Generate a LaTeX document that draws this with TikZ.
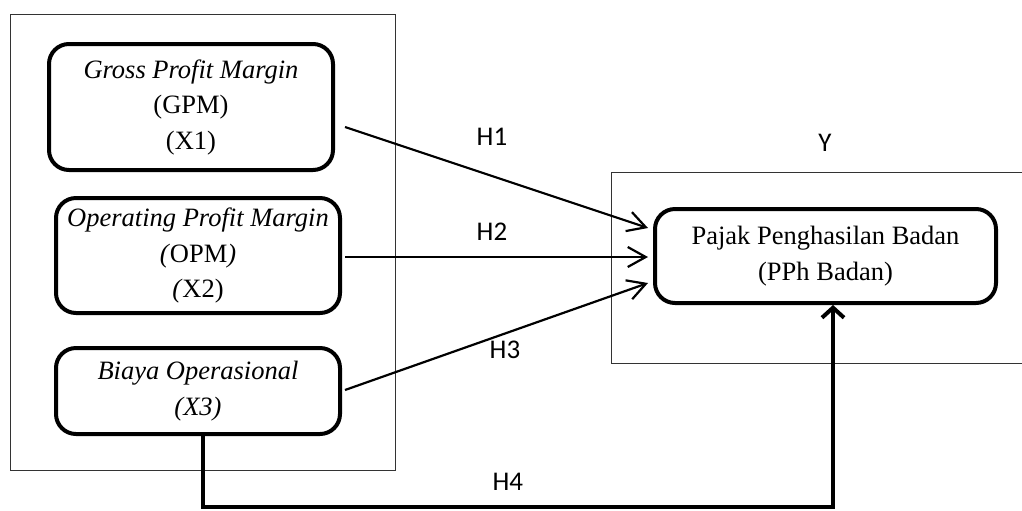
\documentclass[tikz,border=0pt]{standalone}
\usepackage{fontspec}
\setmainfont{Liberation Serif}
\newfontfamily\hfont{Carlito}
\usetikzlibrary{positioning,arrows.meta}
\tikzset{varbox/.style={draw, line width=2pt, rounded corners=10pt, align=center, inner sep=2pt, font=\fontsize{13.25pt}{17.75pt}\selectfont}}
\tikzset{frame/.style={draw=black!80, line width=0.5pt, inner sep=0pt}}
\tikzset{arr/.style={draw, line width=1.1pt, -{Straight Barb[length=9pt,width=10pt]}}}
\tikzset{arrthick/.style={draw, line width=2pt, -{Straight Barb[length=5pt,width=11pt]}}}
\tikzset{hlbl/.style={font=\hfont\fontsize{13.5pt}{16pt}\selectfont, inner sep=1pt}}

\begin{document}
\begin{tikzpicture}[x=0.5pt,y=-0.5pt]
\useasboundingbox (0,0) rectangle (1022,510);
% frames
\node[frame, minimum width=192.5pt, minimum height=228pt] (xframe) at (202.5,242) {};
\node[frame, minimum width=210pt, minimum height=95.5pt] (yframe) at (821,267.5) {};
% variables
\node[varbox, minimum width=142pt, minimum height=63pt] (gpm) at (191,107)
	{\textit{Gross Profit Margin}\\(GPM)\\(X1)};
\node[varbox, minimum width=142pt, minimum height=57.5pt] (opm) at (198,255.5)
	{\textit{Operating Profit Margin}\\\textit{(}OPM\textit{)}\\\textit{(}X2)};
\node[varbox, minimum width=142pt, minimum height=43pt] (bio) at (198,391)
	{\textit{Biaya Operasional}\\\textit{(X3)}};
\node[varbox, minimum width=170.5pt, minimum height=47pt] (pph) at (825.5,256)
	{Pajak Penghasilan Badan\\(PPh Badan)};
\node[hlbl] (ylab) at (825,143) {Y};
% hypotheses
\draw[arr] ([xshift=5pt,yshift=-10pt]gpm.east) --
	node[hlbl,pos=0.485,yshift=19.5pt]{H1} ([xshift=-2.5pt,yshift=14pt]pph.west);
\draw[arr] ([xshift=1.5pt,yshift=-0.75pt]opm.east) --
	node[hlbl,pos=0.485,yshift=12.5pt]{H2} ([xshift=-2.5pt,yshift=-0.5pt]pph.west);
\draw[arr] ([xshift=1.5pt,yshift=0.5pt]bio.east) --
	node[hlbl,pos=0.528,yshift=-8.25pt]{H3} ([xshift=-2.5pt,yshift=-13.5pt]pph.west);
\coordinate (low) at (0,507);
\coordinate (bioout) at ([xshift=2.5pt]bio.south);
\coordinate (pphin) at ([xshift=3.75pt]pph.south);
\draw[arrthick] (bioout) -- (bioout |- low) --
	node[hlbl,pos=0.484,yshift=12.5pt]{H4} (pphin |- low) -- (pphin);
\end{tikzpicture}
\end{document}
